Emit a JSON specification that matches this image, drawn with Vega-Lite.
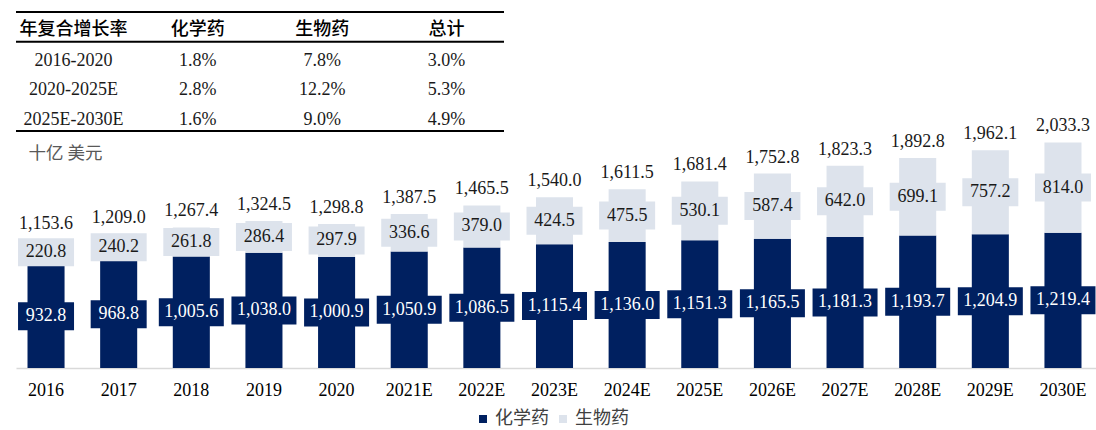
{
  "$schema": "https://vega.github.io/schema/vega-lite/v6.json",
  "padding": {"left": 15, "top": 0, "right": 0, "bottom": 0},
  "bounds": "flush",
  "spacing": 0,
  "background": "#ffffff",
  "config": {
    "view": {"stroke": null},
    "font": "Liberation Serif",
    "axisX": {"ticks": false, "grid": false, "domainColor": "#d9d9d9", "domainWidth": 1.5, "labelFont": "Liberation Serif", "labelFontSize": 18, "labelColor": "#000000", "labelPadding": 13, "labelAngle": 0},
    "axisY": {"labels": false, "ticks": false, "domain": false, "grid": false, "titleAngle": 0, "titleAlign": "left", "titleBaseline": "middle", "titleX": 12, "titleY": 18, "titleFont": "Noto Sans CJK SC", "titleFontSize": 17.5, "titleFontWeight": "normal", "titleColor": "#595959"}
  },
  "datasets": {
    "bars": [
      {"year": "2016", "series": "化学药", "value": 932.8},
      {"year": "2017", "series": "化学药", "value": 968.8},
      {"year": "2018", "series": "化学药", "value": 1005.6},
      {"year": "2019", "series": "化学药", "value": 1038.0},
      {"year": "2020", "series": "化学药", "value": 1000.9},
      {"year": "2021E", "series": "化学药", "value": 1050.9},
      {"year": "2022E", "series": "化学药", "value": 1086.5},
      {"year": "2023E", "series": "化学药", "value": 1115.4},
      {"year": "2024E", "series": "化学药", "value": 1136.0},
      {"year": "2025E", "series": "化学药", "value": 1151.3},
      {"year": "2026E", "series": "化学药", "value": 1165.5},
      {"year": "2027E", "series": "化学药", "value": 1181.3},
      {"year": "2028E", "series": "化学药", "value": 1193.7},
      {"year": "2029E", "series": "化学药", "value": 1204.9},
      {"year": "2030E", "series": "化学药", "value": 1219.4},
      {"year": "2016", "series": "生物药", "value": 220.8},
      {"year": "2017", "series": "生物药", "value": 240.2},
      {"year": "2018", "series": "生物药", "value": 261.8},
      {"year": "2019", "series": "生物药", "value": 286.4},
      {"year": "2020", "series": "生物药", "value": 297.9},
      {"year": "2021E", "series": "生物药", "value": 336.6},
      {"year": "2022E", "series": "生物药", "value": 379.0},
      {"year": "2023E", "series": "生物药", "value": 424.5},
      {"year": "2024E", "series": "生物药", "value": 475.5},
      {"year": "2025E", "series": "生物药", "value": 530.1},
      {"year": "2026E", "series": "生物药", "value": 587.4},
      {"year": "2027E", "series": "生物药", "value": 642.0},
      {"year": "2028E", "series": "生物药", "value": 699.1},
      {"year": "2029E", "series": "生物药", "value": 757.2},
      {"year": "2030E", "series": "生物药", "value": 814.0}
    ],
    "totals": [
      {"year": "2016", "total": 1153.6},
      {"year": "2017", "total": 1209.0},
      {"year": "2018", "total": 1267.4},
      {"year": "2019", "total": 1324.5},
      {"year": "2020", "total": 1298.8},
      {"year": "2021E", "total": 1387.5},
      {"year": "2022E", "total": 1465.5},
      {"year": "2023E", "total": 1540.0},
      {"year": "2024E", "total": 1611.5},
      {"year": "2025E", "total": 1681.4},
      {"year": "2026E", "total": 1752.8},
      {"year": "2027E", "total": 1823.3},
      {"year": "2028E", "total": 1892.8},
      {"year": "2029E", "total": 1962.1},
      {"year": "2030E", "total": 2033.3}
    ],
    "table": [
      {"row": "header", "col": "c0", "text": "年复合增长率"},
      {"row": "header", "col": "c1", "text": "化学药"},
      {"row": "header", "col": "c2", "text": "生物药"},
      {"row": "header", "col": "c3", "text": "总计"},
      {"row": "r1", "col": "c0", "text": "2016-2020"},
      {"row": "r1", "col": "c1", "text": "1.8%"},
      {"row": "r1", "col": "c2", "text": "7.8%"},
      {"row": "r1", "col": "c3", "text": "3.0%"},
      {"row": "r2", "col": "c0", "text": "2020-2025E"},
      {"row": "r2", "col": "c1", "text": "2.8%"},
      {"row": "r2", "col": "c2", "text": "12.2%"},
      {"row": "r2", "col": "c3", "text": "5.3%"},
      {"row": "r3", "col": "c0", "text": "2025E-2030E"},
      {"row": "r3", "col": "c1", "text": "1.6%"},
      {"row": "r3", "col": "c2", "text": "9.0%"},
      {"row": "r3", "col": "c3", "text": "4.9%"}
    ]
  },
  "vconcat": [
    {
      "width": 488,
      "height": 135,
      "layer": [
        {
          "data": {"name": "table"},
          "transform": [{"filter": "datum.row === 'header'"}],
          "mark": {"type": "text", "font": "Noto Sans CJK SC", "fontSize": 18, "fontWeight": 500, "color": "#000000", "baseline": "middle", "dy": 3},
          "encoding": {
            "x": {"field": "col", "type": "nominal", "scale": {"type": "point", "domain": ["c0", "c1", "c2", "c3"], "padding": 0.463}, "axis": null},
            "y": {"field": "row", "type": "nominal", "scale": {"type": "band", "domain": ["header", "r1", "r2", "r3"], "paddingInner": 0, "paddingOuter": 0.269, "align": 0.75}, "axis": null},
            "text": {"field": "text"}
          }
        },
        {
          "data": {"name": "table"},
          "transform": [{"filter": "datum.row !== 'header'"}],
          "mark": {"type": "text", "font": "Liberation Serif", "fontSize": 18, "color": "#1a1a1a", "baseline": "middle", "dy": 4},
          "encoding": {
            "x": {"field": "col", "type": "nominal", "scale": {"type": "point", "domain": ["c0", "c1", "c2", "c3"], "padding": 0.463}, "axis": null},
            "y": {"field": "row", "type": "nominal", "scale": {"type": "band", "domain": ["header", "r1", "r2", "r3"], "paddingInner": 0, "paddingOuter": 0.269, "align": 0.75}, "axis": null},
            "text": {"field": "text"}
          }
        },
        {
          "data": {"values": [{"row": "header"}]},
          "mark": {"type": "rule", "strokeWidth": 2, "color": "#000000"},
          "encoding": {
            "y": {"field": "row", "type": "nominal", "bandPosition": 0, "scale": {"type": "band", "domain": ["header", "r1", "r2", "r3"], "paddingInner": 0, "paddingOuter": 0.269, "align": 0.75}, "axis": null}
          }
        },
        {
          "data": {"values": [{"row": "header"}, {"row": "r3"}]},
          "mark": {"type": "rule", "strokeWidth": 2, "color": "#000000"},
          "encoding": {
            "y": {"field": "row", "type": "nominal", "bandPosition": 1, "scale": {"type": "band", "domain": ["header", "r1", "r2", "r3"], "paddingInner": 0, "paddingOuter": 0.269, "align": 0.75}, "axis": null}
          }
        }
      ]
    },
    {
      "width": 1081,
      "height": 233,
      "layer": [
        {
          "data": {"name": "bars"},
          "transform": [
            {"stack": "value", "groupby": ["year"], "sort": [{"field": "series", "order": "ascending"}], "as": ["v0", "v1"]},
            {"calculate": "(datum.v0 + datum.v1) / 2", "as": "mid"}
          ],
          "layer": [
            {
              "mark": {"type": "bar"},
              "encoding": {
                "x": {"field": "year", "type": "nominal", "title": null, "scale": {"domain": ["2016", "2017", "2018", "2019", "2020", "2021E", "2022E", "2023E", "2024E", "2025E", "2026E", "2027E", "2028E", "2029E", "2030E"], "paddingInner": 0.49, "paddingOuter": 0.186, "align": 0.426}},
                "y": {"field": "v0", "type": "quantitative", "title": "十亿 美元", "scale": {"domain": [0, 2100], "nice": false, "zero": true}},
                "y2": {"field": "v1"},
                "color": {"field": "series", "type": "nominal", "scale": {"domain": ["化学药", "生物药"], "range": ["#002060", "#dde3ec"]}, "legend": {"orient": "none", "legendX": 458, "legendY": 410, "direction": "horizontal", "title": null, "symbolType": "square", "symbolSize": 64, "symbolStrokeWidth": 0, "labelFont": "Noto Sans CJK SC", "labelFontSize": 18, "labelColor": "#404040", "columnPadding": 5, "labelOffset": 3}}
              }
            },
            {
              "mark": {"type": "point", "filled": true, "opacity": 1, "size": 4, "strokeWidth": 0},
              "encoding": {
                "x": {"field": "year", "type": "nominal", "title": null},
                "y": {"field": "mid", "type": "quantitative", "title": "十亿 美元"},
                "color": {"field": "series", "type": "nominal"},
                "shape": {"condition": {"test": "datum.value >= 1000", "value": "M-32.5,-14H32.5V14H-32.5Z"}, "value": "M-28,-14H28V14H-28Z"}
              }
            },
            {
              "mark": {"type": "text", "font": "Liberation Serif", "fontSize": 18, "baseline": "middle"},
              "encoding": {
                "x": {"field": "year", "type": "nominal", "title": null},
                "y": {"field": "mid", "type": "quantitative", "title": "十亿 美元"},
                "text": {"field": "value", "type": "quantitative", "format": ",.1f"},
                "color": {"condition": {"test": "datum.series === '化学药'", "value": "#ffffff"}, "value": "#1a1a1a"}
              }
            }
          ]
        },
        {
          "data": {"name": "totals"},
          "mark": {"type": "text", "font": "Liberation Serif", "fontSize": 18, "baseline": "middle", "dy": -16, "color": "#1a1a1a"},
          "encoding": {
            "x": {"field": "year", "type": "nominal", "title": null},
            "y": {"field": "total", "type": "quantitative", "title": "十亿 美元"},
            "text": {"field": "total", "type": "quantitative", "format": ",.1f"}
          }
        }
      ]
    }
  ]
}
